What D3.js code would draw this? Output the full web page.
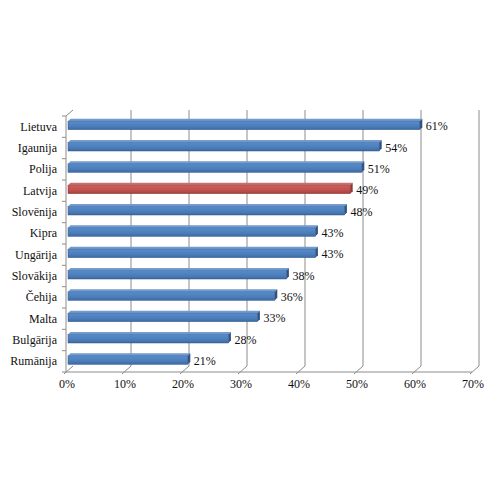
<!DOCTYPE html>
<html><head><meta charset="utf-8">
<script src="https://cdn.jsdelivr.net/npm/d3@7"></script>
<style>body{margin:0;background:#fff}svg{display:block}text{font-family:"Liberation Serif","Times New Roman",serif}</style>
</head><body>
<script>
const categories = ["Lietuva","Igaunija","Polija","Latvija","Slovēnija","Kipra","Ungārija","Slovākija","Čehija","Malta","Bulgārija","Rumānija"];
const values = [61,54,51,49,48,43,43,38,36,33,28,21];
const highlight = ["Latvija"];
const ticks = [0,10,20,30,40,50,60,70];

const W=500,H=500;
const svg=d3.select("body").append("svg").attr("width",W).attr("height",H);
const dx=7, dy=-6; // depth offset
const xf=d3.scaleLinear().domain([0,70]).range([66,472]);
const y=d3.scaleBand().domain(categories).range([116,372]);
const floorY=372;
const grid="#8c8c8c";

const defs=svg.append("defs");
function grad(id,c1,c2,c3){
  const g=defs.append("linearGradient").attr("id",id).attr("x1",0).attr("y1",0).attr("x2",0).attr("y2",1);
  g.append("stop").attr("offset","0%").attr("stop-color",c1);
  g.append("stop").attr("offset","60%").attr("stop-color",c2);
  g.append("stop").attr("offset","100%").attr("stop-color",c3);
}
grad("gb","#5a8bc8","#4a7ebb","#3d69a1");
grad("gr","#cc5e5b","#c0504d","#a23f3d");

// back wall gridlines
const gl=svg.append("g");
ticks.forEach(t=>{
  const xb=xf(t)+dx, xfr=xf(t);
  if(t>0) gl.append("line").attr("x1",xb).attr("x2",xb).attr("y1",floorY+dy-256).attr("y2",floorY+dy).attr("stroke",grid).attr("stroke-width",1);
  gl.append("line").attr("x1",xb).attr("y1",floorY+dy).attr("x2",xfr-2).attr("y2",floorY+2).attr("stroke",grid).attr("stroke-width",1);
});
gl.append("line").attr("x1",xf(0)).attr("x2",xf(70)).attr("y1",floorY).attr("y2",floorY).attr("stroke",grid);
gl.append("line").attr("x1",xf(0)).attr("x2",xf(0)).attr("y1",y.range()[0]).attr("y2",floorY).attr("stroke",grid);
gl.append("line").attr("x1",xf(0)).attr("y1",y.range()[0]).attr("x2",xf(0)+dx).attr("y2",y.range()[0]+dy).attr("stroke",grid);
categories.forEach(c=>{
  gl.append("line").attr("x1",xf(0)-4).attr("x2",xf(0)).attr("y1",y(c)).attr("y2",y(c)).attr("stroke",grid);
});
gl.append("line").attr("x1",xf(0)-4).attr("x2",xf(0)).attr("y1",floorY).attr("y2",floorY).attr("stroke",grid);

// bars
const bars=svg.append("g");
categories.forEach((c,i)=>{
  const v=values[i];
  const red=highlight.includes(c);
  const x0=xf(0)+2, x1=xf(v);
  const yc=y(c)+y.bandwidth()/2-1.5;
  const top=yc-4, bot=yc+4.5;
  const d=2.5;
  bars.append("polygon").attr("points",`${x0},${top} ${x0+d},${top-d} ${x1+d},${top-d} ${x1},${top}`)
    .attr("fill",red?"#c9706d":"#6f9ad2");
  bars.append("rect").attr("x",x0).attr("y",top).attr("width",x1-x0).attr("height",bot-top)
    .attr("fill",red?"url(#gr)":"url(#gb)").attr("stroke",red?"#8e3a38":"#335a8c").attr("stroke-width",0.5);
  bars.append("polygon").attr("points",`${x1},${top} ${x1+d},${top-d} ${x1+d},${bot-d} ${x1},${bot}`)
    .attr("fill",red?"#8e3a38":"#2f5384");
  svg.append("text").attr("x",x1+6).attr("y",yc+5).text(v+"%")
    .attr("font-size",12).attr("fill","#111");
  svg.append("text").attr("x",57).attr("y",y(c)+y.bandwidth()/2+4).attr("text-anchor","end").text(c)
    .attr("font-size",12).attr("fill","#111");
});

ticks.forEach(t=>{
  svg.append("text").attr("x",xf(t)+1).attr("y",388).attr("text-anchor","middle").text(t+"%")
    .attr("font-size",12).attr("fill","#111");
});
</script>
</body></html>
